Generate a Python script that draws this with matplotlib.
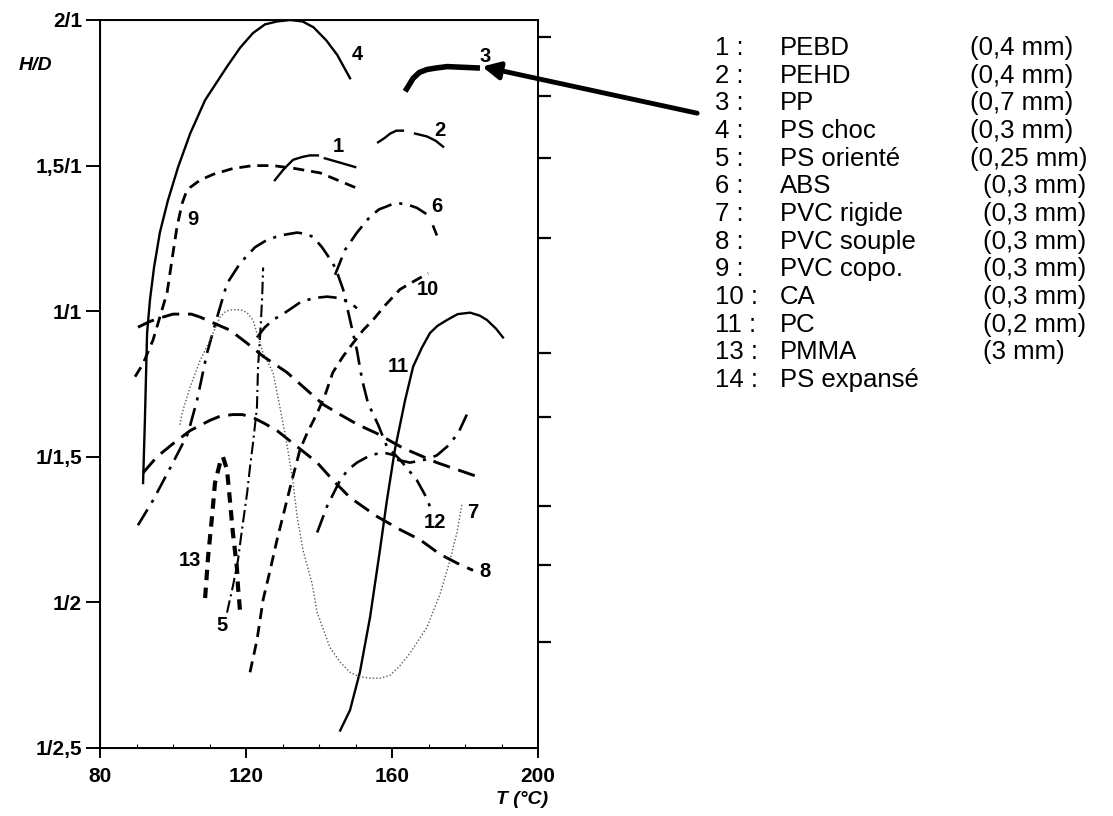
import numpy as np
import matplotlib
matplotlib.use('Agg')
import matplotlib.pyplot as plt

plt.rcParams['font.family'] = ['Liberation Sans', 'DejaVu Sans']

# y axis: H/D in equal graduations (0 = 1/2,5 ... 5 = 2/1)
y_ticklabels = ['1/2,5', '1/2', '1/1,5', '1/1', '1,5/1', '2/1']
x_ticks = [80, 120, 160, 200]
right_ticks = [0.73, 1.26, 1.66, 2.27, 2.71, 3.50, 4.05, 4.48, 4.88]

# curves (T in degC, H/D graduation)
t1 = [127.9, 130.5, 132.9, 135.5, 137.5, 139.7, np.nan, 141.6, 145.8, 149.9]
y1 = [3.90, 3.98, 4.04, 4.06, 4.07, 4.07, np.nan, 4.05, 4.02, 3.99]
t2 = [156.2, 158.0, 159.5, 161.2, 163.0, np.nan, 166.3, 169.6, 172.0, 174.0]
y2 = [4.16, 4.19, 4.22, 4.24, 4.24, np.nan, 4.22, 4.20, 4.17, 4.13]
t3 = [163.6, 165.8, 167.5, 169.6, 172.0, 175.1, 184.1]
y3 = [4.51, 4.60, 4.64, 4.66, 4.67, 4.68, 4.67]
t4 = [91.8, 92.3, 92.9, 93.7, 94.8, 96.4, 98.6, 101.4, 104.7, 108.8, 114.8, 118.4, 121.9, 125.2,
      128.5, 132.1, 135.5, 138.5, 142.0, 145.0, 148.5]
y4 = [1.82, 2.25, 2.85, 3.08, 3.30, 3.54, 3.76, 3.99, 4.22, 4.45, 4.68, 4.81, 4.91, 4.97,
      4.99, 5.00, 4.99, 4.95, 4.86, 4.76, 4.60]
t5 = [114.8, 116.4, 117.8, 118.9, 120.3, 121.1, 121.9, 123.0, 123.3, 123.8, 124.4, 124.7]
y5 = [0.93, 1.11, 1.29, 1.50, 1.75, 1.93, 2.09, 2.34, 2.62, 2.80, 3.08, 3.30]
t6 = [144.4, 147.1, 150.4, 154.0, 156.5, 158.6, 160.5, 162.2, 164.5, 166.8, 169.9, np.nan, 171.2, 172.3]
y6 = [3.25, 3.42, 3.54, 3.65, 3.70, 3.72, 3.74, 3.74, 3.73, 3.71, 3.66, np.nan, 3.59, 3.52]
t7 = [101.9, 102.5, 104.7, 107.4, 110.1, 112.9, 114.5, 116.4, 118.5, 120.3, 121.9, 124.7, 127.4, 129.3,
      131.2, 132.9, 134.0, 135.6, 138.1, 139.5, 143.0, 145.8, 148.5, 151.0, 154.0, 157.0, 159.5, 162.0,
      164.9, 169.6, 173.2, 175.9, 177.8, 179.2]
y7 = [2.22, 2.30, 2.48, 2.66, 2.80, 2.96, 3.00, 3.01, 3.01, 2.99, 2.94, 2.71, 2.58, 2.34,
      2.09, 1.82, 1.59, 1.36, 1.13, 0.93, 0.69, 0.59, 0.52, 0.49, 0.48, 0.48, 0.50, 0.56,
      0.65, 0.83, 1.06, 1.29, 1.48, 1.68]
t8 = [91.8, 95.6, 100.0, 104.7, 110.1, 113.0, 116.4, 119.0, 121.9, 125.0, 128.5, 134.0, 139.5, 143.8,
      148.5, 155.9, 162.2, 167.7, 173.2, 177.8, 182.2]
y8 = [1.89, 2.00, 2.09, 2.18, 2.25, 2.28, 2.29, 2.29, 2.27, 2.23, 2.18, 2.07, 1.96, 1.84,
      1.72, 1.59, 1.50, 1.43, 1.33, 1.27, 1.22]
t9 = [89.6, 91.8, 94.5, 97.0, 98.4, 99.7, 101.1, 102.5, 103.5, 104.7, 107.4, 111.0, 116.4, 121.9,
      127.4, 133.4, 140.3, 149.9]
y9 = [2.55, 2.64, 2.80, 3.01, 3.13, 3.35, 3.58, 3.74, 3.81, 3.85, 3.90, 3.94, 3.98, 4.00,
      4.00, 3.98, 3.95, 3.85]
t10 = [121.1, 123.0, 124.7, 126.6, 128.5, 132.1, 134.8, 136.7, 139.5, 141.6, 143.8, 146.6, 149.3, 152.1,
       154.8, 158.1, 162.2, 166.3, 169.9]
y10 = [0.52, 0.74, 1.02, 1.22, 1.43, 1.79, 2.05, 2.16, 2.30, 2.42, 2.58, 2.69, 2.78, 2.87,
       2.94, 3.04, 3.15, 3.21, 3.26]
t11 = [145.8, 148.5, 151.2, 154.0, 156.7, 158.6, 160.8, 163.6, 165.8, 168.2, 170.4, 172.5, 175.1,
       178.0, 181.4, 184.0, 186.0, 188.5, 190.4]
y11 = [0.12, 0.26, 0.52, 0.90, 1.36, 1.70, 2.05, 2.39, 2.62, 2.75, 2.85, 2.90, 2.94,
       2.98, 2.99, 2.97, 2.94, 2.88, 2.82]
t12 = [90.4, 94.5, 100.0, 104.1, 106.6, 109.3, 112.1, 114.8, 118.4, 122.5, 125.8, 129.3, 134.0, 136.5,
       138.4, 140.8, 143.8, 144.9, 146.6, 148.5, 150.4, 151.8, 153.4, 156.2, 158.6, 162.2, 166.8, 169.0, 170.9]
y12 = [1.53, 1.70, 1.96, 2.16, 2.39, 2.71, 2.96, 3.19, 3.33, 3.44, 3.49, 3.52, 3.54, 3.53,
       3.51, 3.44, 3.33, 3.27, 3.15, 2.94, 2.73, 2.53, 2.37, 2.22, 2.07, 1.98, 1.84, 1.74, 1.63]
t13 = [108.8, 109.6, 110.7, 111.5, 112.9, 113.7, 114.8, 115.6, 116.4, 117.5, 117.8, 118.4]
y13 = [1.03, 1.31, 1.59, 1.82, 1.96, 2.00, 1.91, 1.70, 1.48, 1.24, 1.11, 0.93]
# unlabelled curves
t14 = [90.4, 93.7, 97.3, 100.0, 102.7, 105.0, 107.4, 111.0, 115.6, 120.3, 124.7, 131.2, 137.5, 141.1,
       145.8, 150.7, 155.9, 163.0, 172.3, 182.7]
y14 = [2.89, 2.93, 2.96, 2.98, 2.98, 2.98, 2.96, 2.92, 2.87, 2.78, 2.69, 2.58, 2.44, 2.36,
       2.29, 2.22, 2.16, 2.06, 1.96, 1.87]
ta = [123.0, 125.2, 127.4, 130.7, 134.8, 138.4, 142.2, 145.8, 148.5, 150.4]
ya = [2.82, 2.89, 2.94, 2.99, 3.06, 3.09, 3.10, 3.09, 3.06, 3.02]
tb = [139.5, 142.2, 145.8, 147.9, 150.4, 154.0, 157.5, 160.8]
yb = [1.48, 1.66, 1.84, 1.91, 1.96, 2.01, 2.03, 2.01]
tc = [161.4, 164.9, 169.0, 172.3, 175.1, 178.1, 180.5]
yc = [1.98, 1.96, 1.98, 2.01, 2.07, 2.16, 2.29]

# curve numbers on the chart
lab_text = ['4', '3', '2', '1', '9', '6', '10', '11', '12', '7', '8', '13', '5']
lab_t = [150.4, 185.5, 173.2, 145.2, 105.5, 172.3, 169.9, 161.6, 171.8, 182.2, 185.5, 104.7, 113.4]
lab_y = [4.76, 4.75, 4.24, 4.13, 3.63, 3.72, 3.15, 2.62, 1.55, 1.62, 1.21, 1.29, 0.84]

# legend
leg_num = ['1 :', '2 :', '3 :', '4 :', '5 :', '6 :', '7 :', '8 :', '9 :', '10 :', '11 :', '13 :', '14 :']
leg_name = ['PEBD', 'PEHD', 'PP', 'PS choc', 'PS orienté', 'ABS', 'PVC rigide', 'PVC souple',
            'PVC copo.', 'CA', 'PC', 'PMMA', 'PS expansé']
leg_thick = ['(0,4 mm)', '(0,4 mm)', '(0,7 mm)', '(0,3 mm)', '(0,25 mm)', '(0,3 mm)', '(0,3 mm)',
             '(0,3 mm)', '(0,3 mm)', '(0,3 mm)', '(0,2 mm)', '(3 mm)', '']

W, H = 1113, 816
fig = plt.figure(figsize=(W / 100, H / 100), dpi=100)
ax = fig.add_axes([100 / W, 68 / H, 438 / W, 728 / H])

solid = dict(color='k', lw=1.7)
dashdot = dict(color='k', lw=1.9, ls=(0, (7, 3, 1.2, 3)))
longdash = dict(color='k', lw=2.1, ls=(0, (6, 3)))
meddash = dict(color='k', lw=2.0, ls=(0, (4, 2.5)))

ax.plot(t1, y1, **solid)
ax.plot(t2, y2, **solid)
ax.plot(t3, y3, color='k', lw=4.0, solid_capstyle='butt')
ax.plot(t4, y4, **solid)
ax.plot(t11, y11, **solid)
ax.plot(t5, y5, color='k', lw=1.5, ls=(0, (6, 2, 1, 2)))
ax.plot(t6, y6, **dashdot)
ax.plot(t12, y12, **dashdot)
ax.plot(ta, ya, **dashdot)
ax.plot(tb, yb, **dashdot)
ax.plot(tc, yc, **dashdot)
ax.plot(t7, y7, color='0.35', lw=1.0, ls=(0, (1, 1.5)))
ax.plot(t8, y8, **longdash)
ax.plot(t14, y14, **longdash)
ax.plot(t9, y9, **meddash)
ax.plot(t10, y10, **meddash)
ax.plot(t13, y13, color='k', lw=3.0, ls=(0, (2.5, 1.8)))

for s, t, y in zip(lab_text, lab_t, lab_y):
    ax.text(t, y, s, fontsize=14.5, fontweight='bold', ha='center', va='center')

# arrow pointing from legend to curve 3
ax.annotate('', xy=(184.7, 4.68), xytext=(243.6, 4.36), annotation_clip=False,
            arrowprops=dict(arrowstyle='-|>', color='k', lw=3.5, mutation_scale=26,
                            shrinkA=0, shrinkB=0))

ax.set_xlim(80, 200)
ax.set_ylim(0, 5)
ax.set_xticks(x_ticks)
ax.set_xticks(np.arange(80, 201, 10), minor=True)
ax.set_yticks(range(len(y_ticklabels)))
ax.set_yticklabels(y_ticklabels)
ax.tick_params(axis='y', direction='out', length=10, width=1.4, pad=3, labelsize=15)
ax.tick_params(axis='x', direction='out', length=7, width=1.4, pad=7, labelsize=15)
ax.tick_params(axis='x', which='minor', direction='in', length=3, width=0.8)
for lab in ax.get_xticklabels() + ax.get_yticklabels():
    lab.set_fontweight('bold')
for sp in ax.spines.values():
    sp.set_linewidth(1.4)

ax2 = ax.twinx()
ax2.set_ylim(0, 5)
ax2.set_yticks(right_ticks)
ax2.set_yticklabels([])
ax2.tick_params(axis='y', direction='out', length=9, width=1.6)
ax2.spines['right'].set_linewidth(1.4)

fig.text(35 / W, 1 - 66 / H, 'H/D', fontsize=14, fontweight='bold', style='italic', ha='center', va='center')
fig.text(522 / W, 1 - 800 / H, 'T (°C)', fontsize=14, fontweight='bold', style='italic', ha='center', va='center')

for i in range(len(leg_num)):
    yy = 1 - (48 + i * 27.67) / H
    fig.text(715 / W, yy, leg_num[i], fontsize=18.5, va='center')
    fig.text(780 / W, yy, leg_name[i], fontsize=18.5, va='center')
    xt = 970 if i < 5 else 983
    fig.text(xt / W, yy, leg_thick[i], fontsize=18.5, va='center')

fig.savefig('out.png', dpi=100)
